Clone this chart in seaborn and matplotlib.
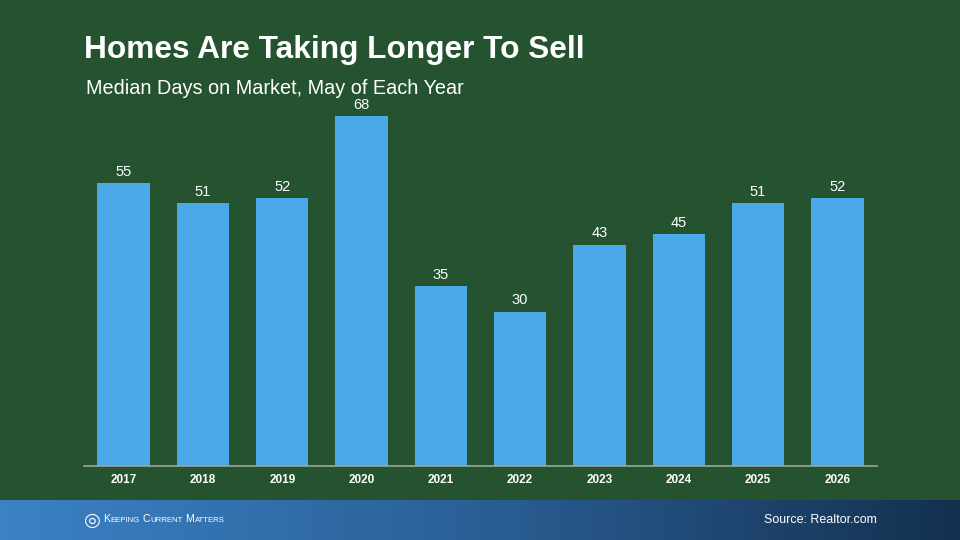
import numpy as np
import pandas as pd
import matplotlib
matplotlib.use("Agg")
import matplotlib.pyplot as plt
import seaborn as sns
from matplotlib.colors import LinearSegmentedColormap

years = ["2017", "2018", "2019", "2020", "2021", "2022", "2023", "2024", "2025", "2026"]
days = [55, 51, 52, 68, 35, 30, 43, 45, 51, 52]
title = "Homes Are Taking Longer To Sell"
subtitle = "Median Days on Market, May of Each Year"
source = "Source: Realtor.com"
brand_words = ["Keeping", "Current", "Matters"]

sns.set_theme(style="white")
plt.rcParams['font.family'] = ['Liberation Sans', 'DejaVu Sans']

BG = "#25532f"
BAR = "#4ba9e8"

fig = plt.figure(figsize=(9.6, 5.4), dpi=100)
fig.patch.set_facecolor(BG)

ax = fig.add_axes([84/960, 1 - 466/540, (877-84)/960, (466-100)/540])
ax.set_facecolor("none")
df = pd.DataFrame({"year": years, "days": days})
sns.barplot(data=df, x="year", y="days", color=BAR, saturation=1, width=0.66,
            linewidth=0, edgecolor="none", ax=ax)
ax.set_xlim(-0.5, 9.5)
ax.set_ylim(0, 71.1)
for c in ax.containers:
    ax.bar_label(c, labels=[str(v) for v in days], padding=3, color="white", fontsize=10.5)
ax.set_xlabel("")
ax.set_ylabel("")
ax.set_yticks([])
for s in ["top", "right", "left"]:
    ax.spines[s].set_visible(False)
ax.spines["bottom"].set_color("#9aa79c")
ax.spines["bottom"].set_linewidth(1.2)
ax.tick_params(axis="x", length=0, pad=6, labelcolor="white", labelsize=8.5)
for t in ax.get_xticklabels():
    t.set_fontweight("bold")

fig.text(84/960, 1 - 50/540, title, color="white", fontsize=22.8, fontweight="bold", va="center", ha="left")
fig.text(86/960, 1 - 89/540, subtitle, color="white", fontsize=14.3, va="center", ha="left")

# footer gradient band
fax = fig.add_axes([0, 0, 1, 40/540])
cmap = LinearSegmentedColormap.from_list("ft", ["#3b82c6", "#2a5f96", "#14304f"])
grad = np.linspace(0, 1, 256).reshape(1, -1)
fax.imshow(grad, aspect="auto", cmap=cmap, extent=[0, 1, 0, 1])
fax.set_axis_off()
fax.text(877/960, 0.5, source, color="white", fontsize=9, ha="right", va="center", transform=fax.transAxes)
fax.text(92/960, 0.5, "\u25CE", color="white", fontsize=14, ha="center", va="center",
         transform=fax.transAxes, family=['DejaVu Sans'], fontweight="bold")

# small-caps brand text, laid out piece by piece
renderer = fig.canvas.get_renderer()
x = 103.0
ybase = 540 - 519 - 3.5  # baseline in pixels from bottom
for w in brand_words:
    for txt, fs in [(w[0].upper(), 7.6), (w[1:].upper(), 5.6)]:
        t = fig.text(x/960, ybase/540, txt, color="white", fontsize=fs,
                     ha="left", va="baseline")
        bb = t.get_window_extent(renderer=renderer)
        x += bb.width + 0.6
    x += 2.0

fig.savefig("out.png", dpi=100, facecolor=fig.get_facecolor())
